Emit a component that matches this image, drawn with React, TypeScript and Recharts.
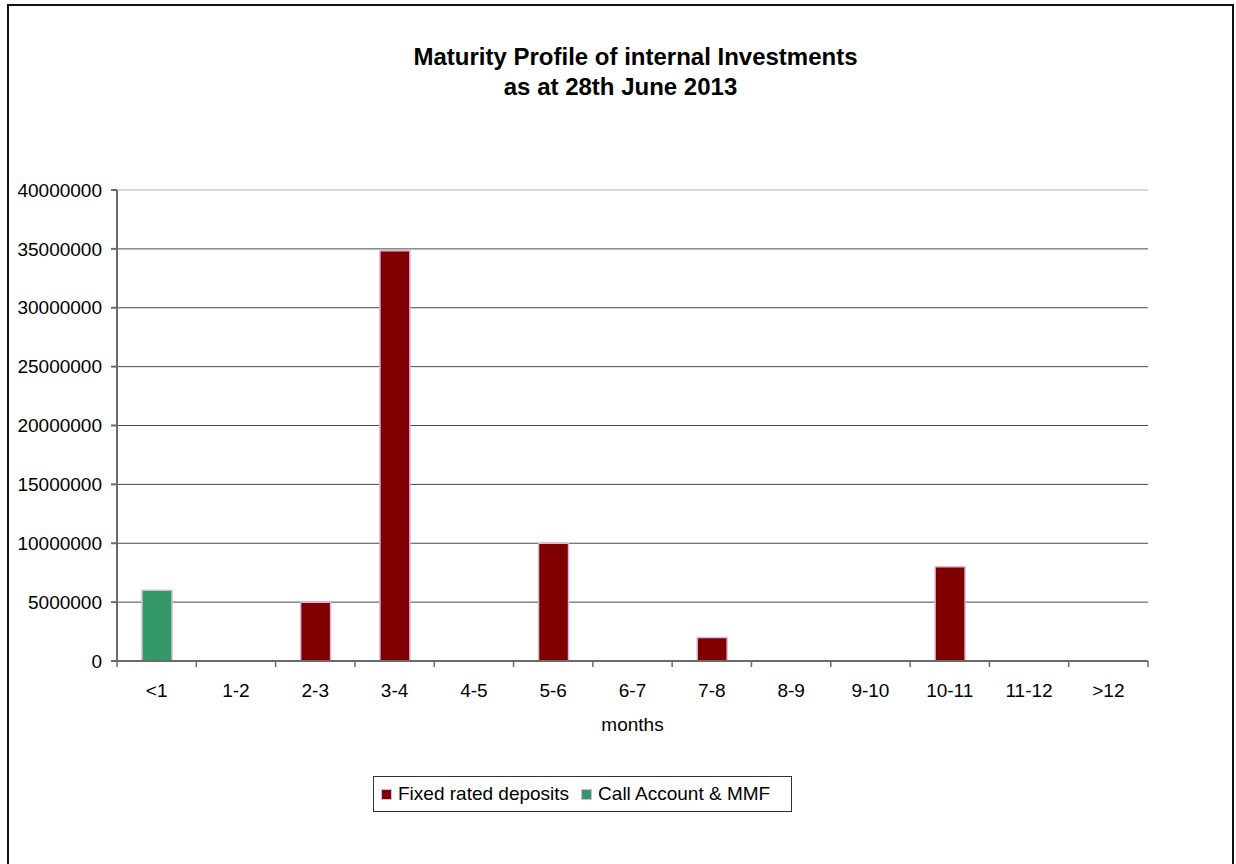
import { BarChart, Bar, XAxis, YAxis, CartesianGrid } from 'recharts';

const categories = ['<1', '1-2', '2-3', '3-4', '4-5', '5-6', '6-7', '7-8', '8-9', '9-10', '10-11', '11-12', '>12'];
const fixedDeposits = [0, 0, 5000000, 34850000, 0, 10000000, 0, 2000000, 0, 0, 8000000, 0, 0];
const callAccount = [6000000, 0, 0, 0, 0, 0, 0, 0, 0, 0, 0, 0, 0];
const yTicks = [0, 5000000, 10000000, 15000000, 20000000, 25000000, 30000000, 35000000, 40000000];

const series = [
  { key: 'fixed', name: 'Fixed rated deposits', color: '#800000' },
  { key: 'call', name: 'Call Account & MMF', color: '#339966' },
];

const FONT = '"Liberation Sans", Arial, sans-serif';
const CHART_W = 1223;
const CHART_H = 870;
const MARGIN = { top: 184, right: 84, left: 0, bottom: 135 };
const Y_AXIS_W = 108;
const X_AXIS_H = 80;
const PLOT_W = CHART_W - MARGIN.left - Y_AXIS_W - MARGIN.right;
const PLOT_BOTTOM = CHART_H - MARGIN.bottom - X_AXIS_H;
const STEP = PLOT_W / categories.length;
const AXIS_COLOR = '#6a6a6a';

const data = categories.map((cat, i) => ({
  cat,
  fixed: fixedDeposits[i],
  call: callAccount[i],
}));

// ticks between categories, like the spreadsheet axis
const CategoryTick = (props: any) => {
  const { x, index, payload } = props;
  const left = x - STEP / 2;
  return (
    <g>
      <line x1={left} y1={PLOT_BOTTOM} x2={left} y2={PLOT_BOTTOM + 6} stroke={AXIS_COLOR} strokeWidth={1.5} />
      {index === categories.length - 1 && (
        <line x1={x + STEP / 2} y1={PLOT_BOTTOM} x2={x + STEP / 2} y2={PLOT_BOTTOM + 6} stroke={AXIS_COLOR} strokeWidth={1.5} />
      )}
      <text x={x} y={PLOT_BOTTOM + 36} textAnchor="middle" fontSize={19} fill="#000" fontFamily={FONT}>
        {payload.value}
      </text>
    </g>
  );
};

const GridLine = (props: any) => {
  const { x1, y1, x2, y2 } = props;
  const isTop = Math.abs(y1 - MARGIN.top) < 1;
  return (
    <line
      x1={x1}
      y1={y1}
      x2={x2}
      y2={y2}
      stroke={isTop ? '#d8d8d8' : '#4a4a4a'}
      strokeWidth={isTop ? 2 : 1}
    />
  );
};

export default function App() {
  return (
    <div style={{ position: 'fixed', left: 0, top: 0, width: 1236, height: 864, overflow: 'hidden', background: '#fff' }}>
      <div
        style={{
          position: 'absolute',
          left: 7,
          top: 4,
          width: 1227,
          height: 890,
          border: '2px solid #111',
          boxSizing: 'border-box',
          fontFamily: FONT,
          background: '#fff',
        }}
      >
        <div
          style={{
            position: 'absolute',
            left: 0,
            top: 36,
            width: 1223,
            textAlign: 'center',
            fontSize: 24,
            fontWeight: 'bold',
            lineHeight: '30px',
            color: '#000',
          }}
        >
          <div style={{ paddingLeft: 30 }}>Maturity Profile of internal Investments</div>
          <div>as at 28th June 2013</div>
        </div>
        <BarChart width={CHART_W} height={CHART_H} data={data} margin={MARGIN}>
          <CartesianGrid vertical={false} horizontal={GridLine} />
          <XAxis
            dataKey="cat"
            height={X_AXIS_H}
            stroke={AXIS_COLOR}
            strokeWidth={2}
            tickLine={false}
            tick={<CategoryTick />}
            interval={0}
            label={(p: any) => {
              const vb = p.viewBox;
              return (
                <text x={vb.x + vb.width / 2} y={vb.y + 70} textAnchor="middle" fontSize={19} fill="#000" fontFamily={FONT}>
                  months
                </text>
              );
            }}
          />
          <YAxis
            width={Y_AXIS_W}
            domain={[0, 40000000]}
            ticks={yTicks}
            interval={0}
            stroke={AXIS_COLOR}
            strokeWidth={2}
            tickSize={6}
            tickMargin={9}
            tick={{ fontSize: 19, fill: '#000', fontFamily: FONT }}
          />
          {series.map((s) => (
            <Bar
              key={s.key}
              dataKey={s.key}
              name={s.name}
              stackId="a"
              fill={s.color}
              stroke="#dcb8e0"
              strokeWidth={1.5}
              barSize={30}
              isAnimationActive={false}
            />
          ))}
        </BarChart>
        <div
          style={{
            position: 'absolute',
            left: 364,
            top: 770,
            width: 419,
            height: 36,
            border: '1px solid #333',
            boxSizing: 'border-box',
            display: 'flex',
            alignItems: 'center',
            paddingLeft: 7,
            fontSize: 19,
            color: '#000',
          }}
        >
          {series.map((s) => (
            <div key={s.key} style={{ display: 'flex', alignItems: 'center', marginRight: 12 }}>
              <span
                style={{
                  display: 'inline-block',
                  width: 9,
                  height: 9,
                  background: s.color,
                  border: '1px solid #dcb8e0',
                  marginRight: 6,
                }}
              />
              <span>{s.name}</span>
            </div>
          ))}
        </div>
      </div>
    </div>
  );
}
